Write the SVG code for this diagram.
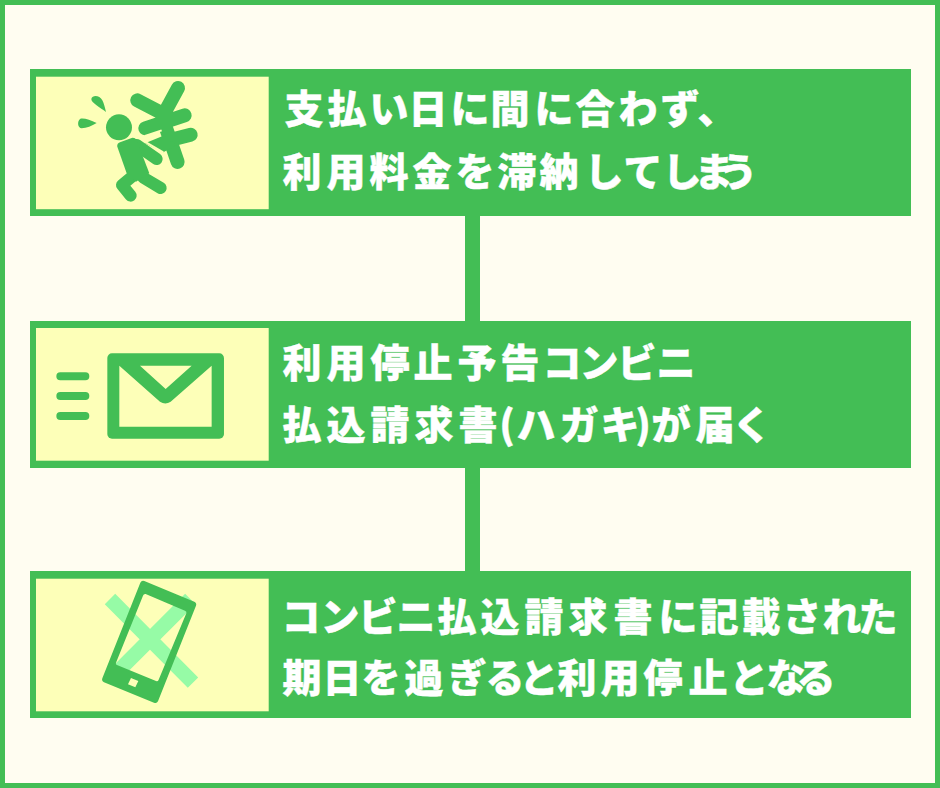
<svg xmlns="http://www.w3.org/2000/svg" width="940" height="788" viewBox="0 0 940 788">
<style>
.bar{fill:#43BE55}
.panel{fill:#FDFFB8}
.ic{fill:#43BE55}
.st{fill:none;stroke:#43BE55;stroke-linecap:round;stroke-linejoin:round}
.t{font-family:"Noto Sans CJK JP","Noto Sans",sans-serif;font-weight:900;font-size:39px;fill:#fff;stroke:#fff;stroke-width:.4px;text-anchor:middle}
</style>
<rect x="2.5" y="2.5" width="935" height="783" fill="#FFFDF1" stroke="#43BE55" stroke-width="5"/>
<g id="connectors"><rect class="bar" x="465" y="216" width="15" height="105"/><rect class="bar" x="465" y="468" width="15" height="103"/></g>
<g id="node1">
<rect class="bar" x="30" y="69" width="881" height="147"/><rect class="panel" x="36" y="76.7" width="232.7" height="132.5"/>
<g transform="translate(30 65) scale(.3333)">
<path class="st" stroke-width="42" d="M322 106L410 152M444 69L400 150M346 190L464 151M405 180L443 291M420 225L482 209"/>
<path class="ic" d="M345 235L400 212L440 240L400 262Z"/>
<path fill="none" stroke="#FDFFB8" stroke-width="6" d="M345 213L395 196"/>
<path fill="none" stroke="#FDFFB8" stroke-width="6" d="M330 222L400 262"/>
<circle class="ic" cx="267" cy="187" r="39"/>
<path class="st" stroke-width="36" d="M320 240L380 282M312 330L276 360L302 392M340 338L392 369"/>
<path class="ic" d="M262 245Q260 236 270 232L305 219Q315 217 320 226L358 325L318 350L290 325Z"/>
<path class="ic" d="M228 141C212 128 183 113 184 102C188 88 210 92 217 106C222 116 225 128 228 141ZM200 174C180 165 160 158 150 162C141 170 143 189 155 190C170 190 185 182 200 174Z"/>
</g></g>
<text class="t" y="123" x="304 347 389 428 470 510 554 595 638 680 717">支払い日に間に合わず、</text>
<text class="t" y="186" x="302 346 389 432 475 517 559 604 643 682 714 738">利用料金を滞納してしまう</text>
<g id="node2">
<rect class="bar" x="30" y="321" width="881" height="147"/><rect class="panel" x="36" y="328" width="232.7" height="132.7"/>
<g transform="translate(30 320) scale(.3333)">
<path class="st" stroke-width="24" d="M91 169H166M91 228H166M91 288H166"/>
<rect class="ic" x="232" y="100" width="350" height="256" rx="14"/>
<path class="panel" d="M268 137L390 245Q406 256 422 245L545 137V320H268ZM330 137H485L407 207Z"/>
</g></g>
<text class="t" y="377" x="302 346 390 433 477 520 562 599 637 676">利用停止予告コンビニ</text>
<text class="t" y="439" x="302 346 390 434 478 507 536 579 620 643 671 715 752">払込請求書(ハガキ)が届く</text>
<g id="node3">
<rect class="bar" x="30" y="571" width="881" height="147"/><rect class="panel" x="36" y="578.7" width="232.7" height="132.6"/>
<g transform="translate(30 570) scale(.3333)">
<path fill="none" stroke="#96FBA6" stroke-width="44" d="M240 87L489 338M481 87L270 298"/>
<path class="ic" fill-rule="evenodd" d="M343 33L493 95Q501 99 498 107L384 394Q380 402 372 398L222 337Q214 333 217 325L331 38Q335 30 343 33ZM347 72Q341 71 339 77L258 278Q256 283 261 285L378 333Q384 335 386 329L469 130Q471 124 465 122ZM303 324L325 333L316 352L294 343Z"/>
</g></g>
<text class="t" y="631" x="301 340 378 416 457 500 544 588 633 678 719 761 802 842 878">コンビニ払込請求書に記載された</text>
<text class="t" y="692" x="302 342 381 424 467 505 539 577 620 663 708 749 786 816">期日を過ぎると利用停止となる</text>
</svg>
